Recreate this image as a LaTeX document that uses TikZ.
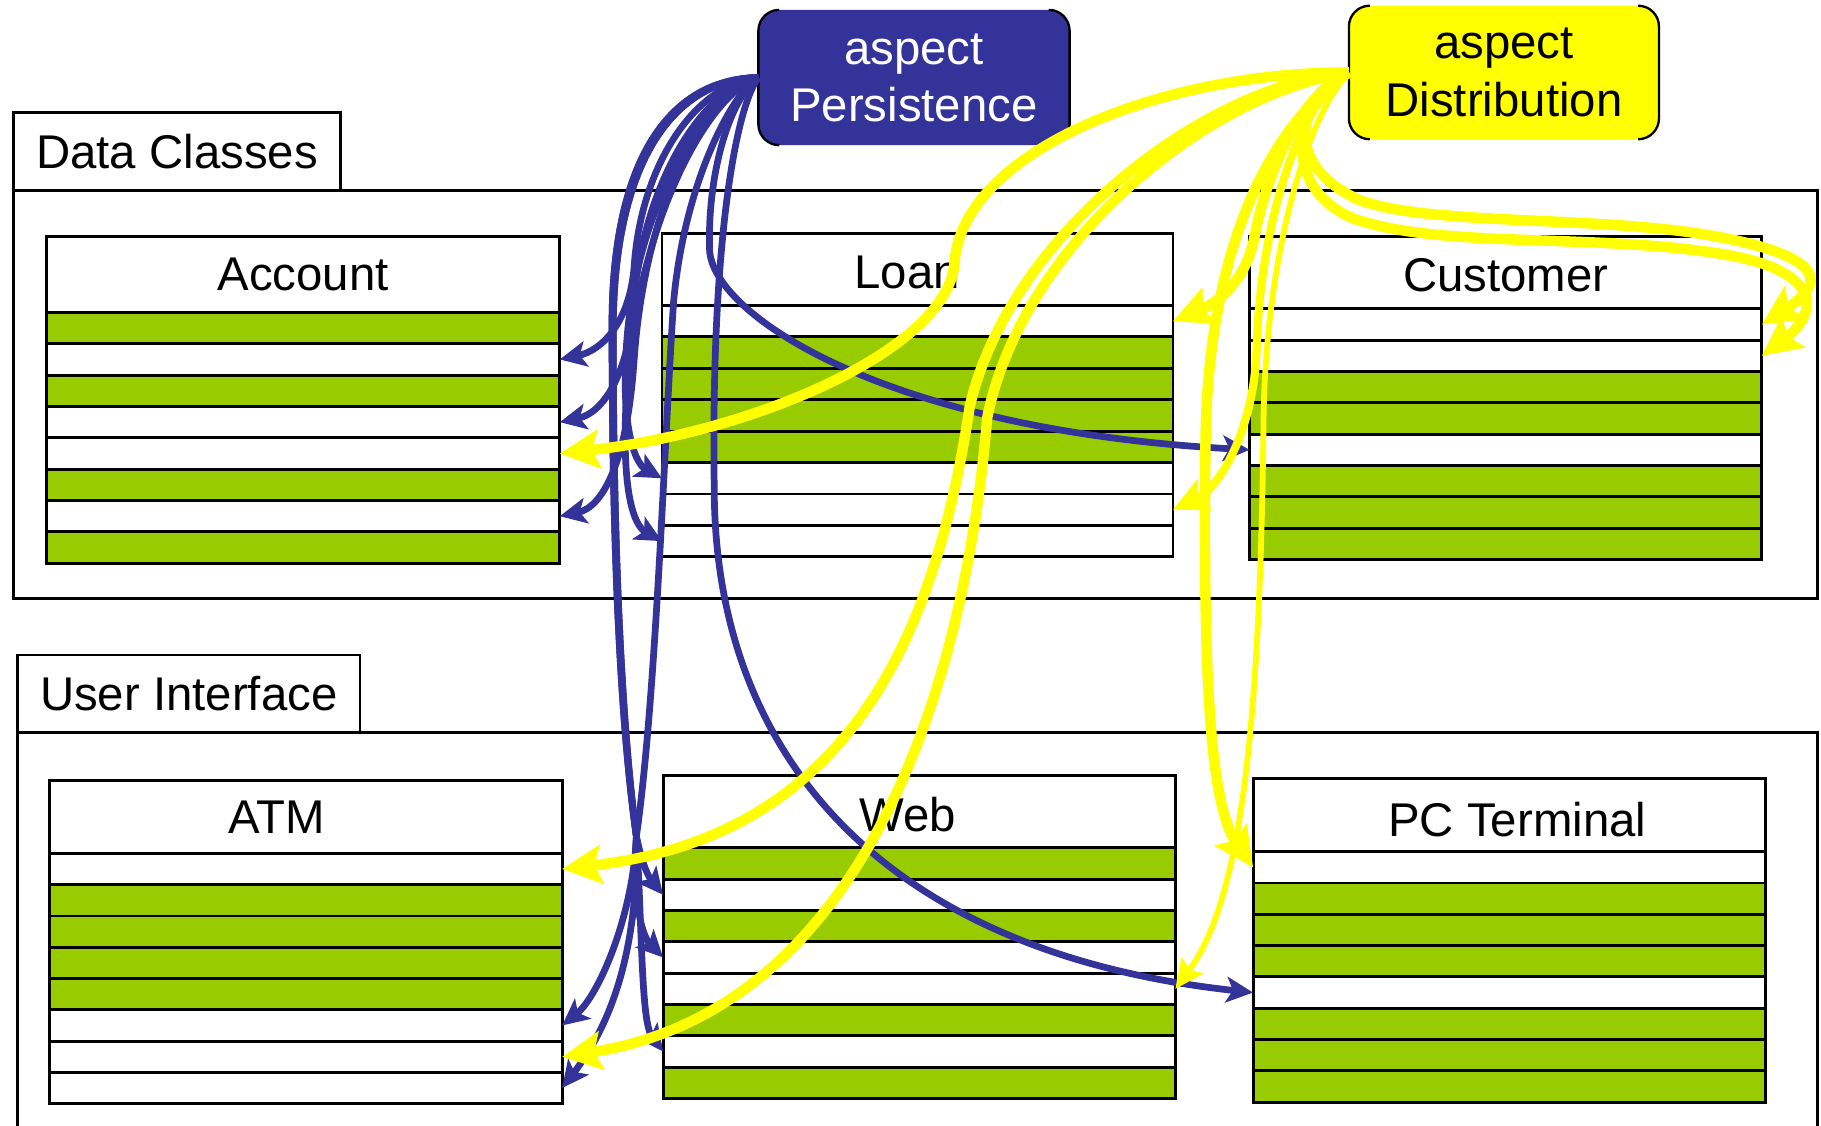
\documentclass[tikz,border=0pt]{standalone}
\usepackage{fontspec}
\setmainfont{Liberation Sans}
\usetikzlibrary{arrows.meta}

\definecolor{aspblue}{RGB}{51,51,153}
\definecolor{aspyellow}{RGB}{255,255,0}
\definecolor{rowgreen}{RGB}{153,204,0}
\colorlet{rowwhite}{white}

\tikzset{
  boxframe/.style={draw=black, line width=0.25mm, inner sep=0pt, outer sep=0pt},
  classhead/.style={boxframe, fill=white},
  classtitle/.style={inner sep=0pt, font=\fontsize{11.6pt}{14pt}\selectfont},
  classrow/.style={boxframe},
  tabbox/.style={boxframe, fill=white, font=\fontsize{11.6pt}{14pt}\selectfont},
  aspectbox/.style={inner sep=0pt, outer sep=0pt, rounded corners=1.8mm, align=center,
                    font=\fontsize{11.6pt}{14pt}\selectfont},
  aspectedge/.style={draw=black, line width=0.2mm, rounded corners=1.8mm},
  blueflow/.style={draw=aspblue, line width=0.58mm,
                   -{Stealth[length=2.3mm, width=2.2mm, inset=0.55mm]}},
  yellowflow/.style={draw=aspyellow, line width=0.9mm,
                     -{Stealth[length=3.4mm, width=3.3mm, inset=0.6mm]}},
  yellowmid/.style={draw=aspyellow, line width=0.7mm,
                    -{Stealth[length=3.0mm, width=2.9mm, inset=0.55mm]}},
  yellowthin/.style={draw=aspyellow, line width=0.5mm,
                     -{Stealth[length=2.5mm, width=2.3mm, inset=0.45mm]}},
}

\begin{document}
\begin{tikzpicture}[x=0.1mm, y=-0.1mm]
\clip (0,0) rectangle (1568,969);

% package containers with their name tabs
\node[boxframe, minimum width=155.3mm, minimum height=35.1mm] (dc) at (788.5,339.5) {};
\node[tabbox, minimum width=28.1mm, minimum height=6.7mm] (dctab) at (152.5,130.5) {Data Classes};
\node[boxframe, minimum width=155mm, minimum height=40mm] (ui) at (790,831) {};
\node[tabbox, minimum width=29.5mm, minimum height=6.7mm] (uitab) at (162.5,597.5) {User Interface};

% class boxes: header (with its title) plus eight attribute rows
\foreach \nm/\xl/\xr/\yt/\yh/\yb/\ttl/\tdx/\tdy/\pat in {%
  acc/40/482/204/269/485/Account/0/0/{rowgreen,rowwhite,rowgreen,rowwhite,rowwhite,rowgreen,rowwhite,rowgreen},%
  loan/570/1010/201/263/479.5/Loan/-9/3/{rowwhite,rowgreen,rowgreen,rowgreen,rowgreen,rowwhite,rowwhite,rowwhite},%
  cust/1076/1517/203.5/266/481.7/Customer/0/2/{rowwhite,rowwhite,rowgreen,rowgreen,rowwhite,rowgreen,rowgreen,rowgreen},%
  atm/43/484/672.3/734.8/950.4/ATM/-25/0/{rowwhite,rowgreen,rowgreen,rowgreen,rowgreen,rowwhite,rowwhite,rowwhite},%
  web/571/1012/667.6/730/946/Web/-10/3/{rowgreen,rowwhite,rowgreen,rowwhite,rowwhite,rowgreen,rowwhite,rowgreen},%
  pct/1079/1520/670.2/733.4/949/PC Terminal/7/4/{rowwhite,rowgreen,rowgreen,rowgreen,rowwhite,rowgreen,rowgreen,rowgreen}}{%
  \pgfmathsetmacro\crow{(\yb-\yh)/8}
  \pgfmathsetmacro\ccx{(\xl+\xr)/2}
  \pgfmathsetmacro\cbw{(\xr-\xl)/10}
  \pgfmathsetmacro\cbh{(\yh-\yt)/10}
  \pgfmathsetmacro\crmm{\crow/10}
  \node[classhead, minimum width=\cbw mm, minimum height=\cbh mm] (\nm-h) at (\ccx,{(\yt+\yh)/2}) {};
  \node[classtitle] (\nm-t) at ({\ccx+\tdx},{(\yt+\yh)/2+\tdy}) {\ttl};
  \foreach \rc [count=\ri] in \pat {
    \node[classrow, fill=\rc, minimum width=\cbw mm, minimum height=\crmm mm]
      (\nm-\ri) at (\ccx,{\yh+(\ri-0.5)*\crow}) {};
  }
}

% aspect boxes
\node[aspectbox, fill=aspblue, text=white, minimum width=26.8mm, minimum height=11.65mm]
  (persist) at (787,66.75) {aspect\\Persistence};
\draw[aspectedge] ([xshift=1.8mm]persist.north west) -- (persist.north west)
  -- (persist.south west) -- ([xshift=1.8mm]persist.south west);
\draw[aspectedge] ([xshift=-1.8mm]persist.north east) -- (persist.north east)
  -- (persist.south east) -- ([xshift=-1.8mm]persist.south east);

\node[aspectbox, fill=aspyellow, text=black, minimum width=26.7mm, minimum height=11.5mm]
  (distrib) at (1295,62.4) {aspect\\Distribution};
\draw[aspectedge] ([xshift=1.8mm]distrib.north west) -- (distrib.north west)
  -- (distrib.south west) -- ([xshift=1.8mm]distrib.south west);
\draw[aspectedge] ([xshift=-1.8mm]distrib.north east) -- (distrib.north east)
  -- (distrib.south east) -- ([xshift=-1.8mm]distrib.south east);

% persistence crosscuts
\draw[blueflow] (persist.west) .. controls (600,72) and (552,140) .. (546,230)
  .. controls (542,278) and (518,302) .. (acc-2.east);
\draw[blueflow] (persist.west) .. controls (605,75) and (553,160) .. (546,260)
  .. controls (541,325) and (518,356) .. (acc-4.east);
\draw[blueflow] (persist.west) .. controls (605,78) and (555,180) .. (546,310)
  .. controls (540,400) and (518,437) .. (acc-7.east);
\draw[blueflow] (persist.west) .. controls (610,80) and (550,170) .. (540,290)
  .. controls (534,360) and (545,398) .. (loan-6.west);
\draw[blueflow] (persist.west) .. controls (610,80) and (550,190) .. (540,330)
  .. controls (534,420) and (545,452) .. (loan-8.west);
\draw[blueflow] (persist.west) .. controls (575,68) and (527,140) .. (527,280)
  .. controls (527,480) and (535,630) .. (548,720)
  .. controls (551,735) and (556,752) .. (web-2.west);
\draw[blueflow] (persist.west) .. controls (635,75) and (590,150) .. (580,260)
  .. controls (572,380) and (565,600) .. (548,720)
  .. controls (544,770) and (552,805) .. (web-4.west);
\draw[blueflow] (persist.west) .. controls (578,69) and (528,142) .. (528,285)
  .. controls (528,480) and (536,630) .. (548,720)
  .. controls (553,800) and (552,880) .. (web-7.west);
\draw[blueflow] (persist.west) .. controls (578,69) and (528,142) .. (528,285)
  .. controls (528,480) and (536,630) .. (548,720)
  .. controls (545,790) and (515,858) .. (atm-6.east);
\draw[blueflow] (persist.west) .. controls (575,68) and (527,140) .. (527,280)
  .. controls (527,480) and (535,630) .. (548,720)
  .. controls (550,830) and (520,890) .. (atm-8.east);
\draw[blueflow] (persist.west) .. controls (628,85) and (609,150) .. (611,215)
  .. controls (613,270) and (760,370) .. (cust-5.west);
\draw[blueflow] (persist.west) .. controls (632,95) and (612,220) .. (615,420)
  .. controls (615,650) and (760,820) .. (pct-5.west);

% distribution crosscuts
\draw[yellowflow] (distrib.west) .. controls (1000,62) and (830,130) .. (822,225)
  .. controls (818,300) and (650,372) .. (acc-5.east);
\draw[yellowflow] (distrib.west) .. controls (1040,72) and (870,200) .. (835,350)
  .. controls (805,550) and (730,720) .. (atm-1.east);
\draw[yellowflow] (distrib.west) .. controls (1040,80) and (880,210) .. (850,360)
  .. controls (830,600) and (740,870) .. (atm-7.east);
\draw[yellowflow] (distrib.west) .. controls (1120,80) and (1090,150) .. (1080,205)
  .. controls (1072,245) and (1045,262) .. (loan-1.east);
\draw[yellowmid] (distrib.west) .. controls (1115,90) and (1085,200) .. (1082,300)
  .. controls (1080,370) and (1050,420) .. (loan-7.east);
\draw[yellowflow] (distrib.west) .. controls (1090,110) and (1040,220) .. (1038,380)
  .. controls (1036,560) and (1040,690) .. (pct-1.west);
\draw[yellowthin] (distrib.west) .. controls (1125,100) and (1090,220) .. (1088,360)
  .. controls (1085,650) and (1065,780) .. (web-5.east);
\draw[yellowflow] (distrib.west) .. controls (1120,80) and (1100,140) .. (1170,172)
  .. controls (1230,195) and (1380,185) .. (1480,204)
  .. controls (1575,222) and (1570,245) .. (cust-1.east);
\draw[yellowflow] (distrib.west) .. controls (1115,85) and (1100,160) .. (1165,188)
  .. controls (1240,215) and (1380,200) .. (1490,220)
  .. controls (1570,235) and (1565,270) .. (cust-2.east);
\end{tikzpicture}
\end{document}
